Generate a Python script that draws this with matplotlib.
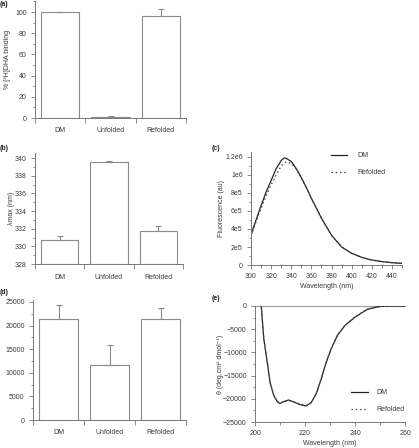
import matplotlib
matplotlib.use('Agg')
import matplotlib.pyplot as plt
import numpy as np
from matplotlib.ticker import MultipleLocator, FixedLocator, FuncFormatter

plt.rcParams['font.family'] = ['Liberation Sans', 'DejaVu Sans']

# data
groups = ['DM', 'Unfolded', 'Refolded']

binding = [100, 1, 96.5]
binding_err = [0.3, 0.5, 6]

lmax = [330.7, 339.5, 331.7]
lmax_err = [0.5, 0.2, 0.6]

third = [21500, 11700, 21300]
third_err = [2800, 4200, 2500]

fl_wl = [300, 305, 310, 315, 320, 325, 330, 333, 335, 340, 345, 350, 355, 360,
         370, 380, 390, 400, 410, 420, 430, 440, 450]
fl_dm = [3.3e5, 5.0e5, 6.6e5, 8.1e5, 9.4e5, 1.07e6, 1.16e6, 1.19e6, 1.185e6, 1.15e6,
         1.07e6, 9.7e5, 8.6e5, 7.4e5, 5.2e5, 3.3e5, 2.0e5, 1.3e5, 8.5e4, 5.5e4,
         3.8e4, 2.6e4, 1.8e4]
fl_ref = [3.3e5, 4.8e5, 6.3e5, 7.7e5, 8.9e5, 1.0e6, 1.1e6, 1.135e6, 1.145e6, 1.13e6,
          1.065e6, 9.7e5, 8.6e5, 7.4e5, 5.2e5, 3.3e5, 2.0e5, 1.3e5, 8.5e4, 5.5e4,
          3.8e4, 2.6e4, 1.8e4]

cd_wl = [202.5, 203.5, 205, 206, 207.5, 209, 210, 211.5, 213.5, 215.5, 218, 220.5,
         222.5, 224.5, 226.5, 228.5, 230.5, 233, 236, 240, 245, 250, 255, 260]
cd_dm = [0, -7000, -12500, -16400, -19300, -20700, -21000, -20600, -20250, -20700,
         -21250, -21550, -20800, -18900, -15700, -12100, -9200, -6300, -4200, -2400,
         -700, -100, 0, 0]
cd_ref = [0, -7000, -12400, -16300, -19200, -20600, -20900, -20550, -20400, -20650,
          -21100, -21450, -20900, -18800, -15600, -12000, -9100, -6200, -4100, -2300,
          -700, -100, 0, 0]

W, H = 419, 448
fig = plt.figure(figsize=(W/100, H/100), dpi=100)

axcol = '#777777'
txtcol = '#3a3a3a'
fs = 5.0


def ax_px(l, r, top, bottom):
    return fig.add_axes([l/W, 1-bottom/H, (r-l)/W, (bottom-top)/H])


def style(ax):
    for s in ['top', 'right']:
        ax.spines[s].set_visible(False)
    for s in ['left', 'bottom']:
        ax.spines[s].set_color(axcol)
        ax.spines[s].set_linewidth(0.7)
    ax.tick_params(which='both', colors=axcol, labelcolor=txtcol, labelsize=fs, width=0.6)
    ax.tick_params(which='major', length=3, pad=3)
    ax.tick_params(which='minor', length=1.8)


def bar_panel(ax, vals, errs, ylo, yhi, major, minor, pad):
    x = np.arange(len(groups))
    ax.bar(x, [v - ylo for v in vals], bottom=ylo, width=0.76, color='white',
           edgecolor='#8a8a8a', linewidth=0.8)
    ax.errorbar(x, vals, yerr=[[0]*len(errs), errs], fmt='none', ecolor='#8a8a8a',
                elinewidth=0.8, capsize=2.2, capthick=0.8)
    ax.set_xlim(-0.5, 2.5)
    ax.set_ylim(ylo, yhi)
    style(ax)
    ax.set_xticks(x)
    ax.set_xticklabels(groups)
    ax.xaxis.set_minor_locator(FixedLocator([-0.5, 0.5, 1.5, 2.5]))
    ax.tick_params(axis='x', which='major', length=0, pad=pad)
    ax.tick_params(axis='x', which='minor', length=3.5)
    ax.yaxis.set_major_locator(MultipleLocator(major))
    ax.yaxis.set_minor_locator(MultipleLocator(minor))


# (a)
ax_a = ax_px(35, 186, 1.4, 118)
bar_panel(ax_a, binding, binding_err, 0, 110, 20, 10, 6.5)
ax_a.set_ylabel('% [³H]DHA binding', fontsize=fs, color=txtcol)
ax_a.yaxis.set_label_coords((11 - 35) / 151, 0.5)

# (b)
ax_b = ax_px(35, 183, 152.7, 264)
bar_panel(ax_b, lmax, lmax_err, 328, 340.6, 2, 1, 7.5)
ax_b.set_ylabel('λmax (nm)', fontsize=fs, color=txtcol)
ax_b.yaxis.set_label_coords((15 - 35) / 148, 0.5)

# (d)
ax_d = ax_px(33, 186, 300.1, 420)
bar_panel(ax_d, third, third_err, 0, 25400, 5000, 2500, 6.5)

# (c)
ax_c = ax_px(251, 402, 152.5, 265)
ax_c.plot(fl_wl, fl_dm, color='#222222', lw=0.9, label='DM')
ax_c.plot(fl_wl, fl_ref, color='#444444', lw=0.9, ls=(0, (1.2, 2.2)), label='Refolded')
ax_c.set_xlim(300, 450)
ax_c.set_ylim(0, 1.25e6)
style(ax_c)
ax_c.xaxis.set_major_locator(MultipleLocator(20))
ax_c.xaxis.set_minor_locator(MultipleLocator(10))
ax_c.yaxis.set_major_locator(MultipleLocator(2e5))
ax_c.yaxis.set_minor_locator(MultipleLocator(1e5))


def sci(v, pos):
    if v == 0:
        return '0'
    m = v / 1e6
    if m >= 1:
        return ('%g' % m) + 'e6'
    return ('%g' % (v / 1e5)) + 'e5'


ax_c.yaxis.set_major_formatter(FuncFormatter(sci))
ax_c.set_xlabel('Wavelength (nm)', fontsize=fs, color=txtcol)
ax_c.xaxis.set_label_coords(0.5, (265 - 283) / 112.5)
ax_c.set_ylabel('Fluorescence (au)', fontsize=fs, color=txtcol)
ax_c.yaxis.set_label_coords((225 - 251) / 151, 0.5)
leg = ax_c.legend(loc='upper right', fontsize=fs, frameon=False, handlelength=2.4,
                  handletextpad=1.4, labelspacing=1.5, bbox_to_anchor=(0.93, 1.06))
for t in leg.get_texts():
    t.set_color(txtcol)

# (e)
ax_e = ax_px(255, 405, 306, 422)
ax_e.axhline(0, color='#999999', lw=0.8, clip_on=False)
ax_e.plot(cd_wl, cd_dm, color='#222222', lw=0.9, label='DM')
ax_e.plot(cd_wl, cd_ref, color='#555555', lw=0.9, ls=(0, (1.2, 2.2)), label='Refolded')
ax_e.set_xlim(200, 260)
ax_e.set_ylim(-25000, 0)
style(ax_e)
ax_e.xaxis.set_major_locator(MultipleLocator(20))
ax_e.xaxis.set_minor_locator(MultipleLocator(10))
ax_e.yaxis.set_major_locator(MultipleLocator(5000))
ax_e.yaxis.set_minor_locator(MultipleLocator(2500))
ax_e.set_xlabel('Wavelength (nm)', fontsize=fs, color=txtcol)
ax_e.xaxis.set_label_coords(0.5, (422 - 440) / 116)
ax_e.set_ylabel('θ (deg.cm² dmol⁻¹)', fontsize=fs, color=txtcol)
ax_e.yaxis.set_label_coords((224 - 255) / 150, 0.5)
leg = ax_e.legend(loc='lower right', fontsize=fs, frameon=False, handlelength=2.4,
                  handletextpad=1.3, labelspacing=1.5, bbox_to_anchor=(1.04, 0.02))
for t in leg.get_texts():
    t.set_color(txtcol)

# panel letters
for lab, px, py in [('(a)', 0, 5), ('(b)', 0, 148), ('(c)', 212, 148),
                    ('(d)', 0, 292), ('(e)', 212, 298)]:
    fig.text(px/W, 1-py/H, lab, fontsize=fs, fontweight='bold', color='#222222',
             ha='left', va='center')

fig.savefig('out.png', dpi=100)
